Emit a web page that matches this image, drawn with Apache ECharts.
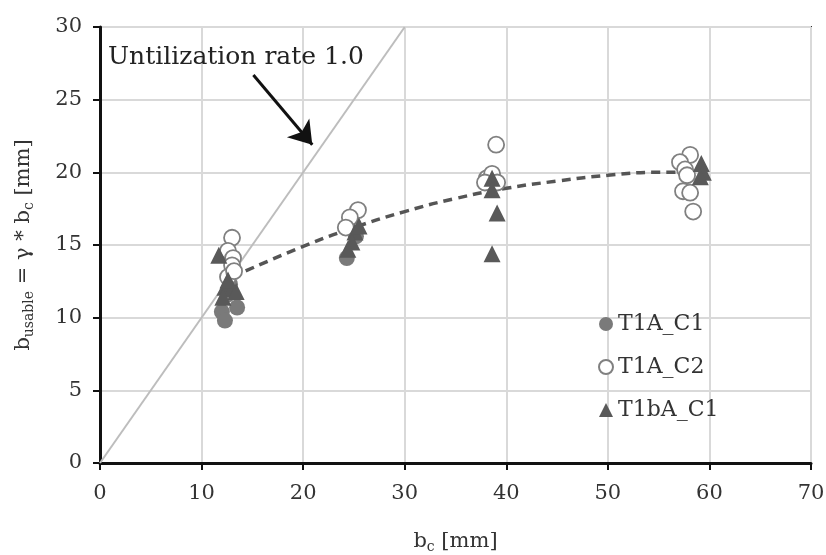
<!DOCTYPE html>
<html>
<head>
    <meta charset="utf-8">
    <title>b_usable vs b_c</title>
    <script src="https://cdn.jsdelivr.net/npm/echarts@6/dist/echarts.min.js"></script>
    <style>
        html, body { margin: 0; padding: 0; background: #fff; }
        #chart1 { width: 826px; height: 555px; }
    </style>
</head>
<body>
<div id="chart1"></div>
<script>
    // 数据
    var t1aC1 = [[12.0, 10.4], [12.3, 9.8], [13.5, 10.7], [12.6, 11.6], [12.8, 12.3], [24.3, 14.1], [25.2, 15.6]];
    var t1aC2 = [[13.0, 15.5], [12.6, 14.6], [13.1, 14.1], [13.0, 13.6], [12.6, 12.8], [13.2, 13.2],
        [25.4, 17.4], [24.6, 16.9], [24.2, 16.2],
        [39.0, 21.9], [38.1, 19.6], [38.6, 19.9], [39.1, 19.3], [37.9, 19.3],
        [58.1, 21.2], [57.1, 20.7], [57.6, 20.2], [57.8, 19.8], [57.4, 18.7], [58.1, 18.6], [58.4, 17.3]];
    var t1baC1 = [[11.7, 14.3], [12.3, 12.1], [13.0, 12.0], [13.4, 11.8], [12.1, 11.4], [12.6, 12.6],
        [25.1, 15.9], [24.8, 15.2], [24.4, 14.7], [25.5, 16.3],
        [38.6, 19.6], [38.6, 18.8], [39.1, 17.2], [38.6, 14.4],
        [59.2, 20.6], [59.4, 20.0], [59.1, 19.7]];
    var trendX = [13, 20, 25, 30, 35, 40, 45, 50, 55, 58];
    var trendY = [12.8, 14.9, 16.2, 17.3, 18.2, 18.9, 19.4, 19.8, 20.0, 20.0];
    var unity = [[0, 0], [30, 30]];
    var arrowFrom = [15.1, 26.7];
    var arrowTo = [20.9, 21.9];
    var xTicks = [0, 10, 20, 30, 40, 50, 60, 70];
    var yTicks = [0, 5, 10, 15, 20, 25, 30];

    var serif = '"DejaVu Serif", "Liberation Serif", serif';
    var trend = trendX.map(function (x, i) { return [x, trendY[i]]; });
    var nameRich = {
        b: { fontFamily: serif, fontSize: 21, color: '#333' },
        s: { fontFamily: serif, fontSize: 14, color: '#333', padding: [11, 0, 0, 0] }
    };

    var myChart1 = echarts.init(document.getElementById('chart1'));
    myChart1.setOption({
        animation: false,
        backgroundColor: '#fff',
        textStyle: { fontFamily: serif },
        grid: { left: 100, right: 15, top: 27, bottom: 92, containLabel: false, outerBoundsMode: 'none' },
        legend: {
            orient: 'vertical',
            left: 593, top: 308,
            itemGap: 21,
            itemWidth: 14, itemHeight: 14,
            textStyle: { fontFamily: serif, fontSize: 22, color: '#333' },
            data: [
                { name: 'T1A_C1', icon: 'circle' },
                { name: 'T1A_C2', icon: 'circle' },
                { name: 'T1bA_C1', icon: 'triangle' }
            ]
        },
        xAxis: {
            type: 'value', min: xTicks[0], max: xTicks[xTicks.length - 1], interval: 10,
            name: '{b|b}{s|c}{b| [mm]}',
            nameLocation: 'middle', nameGap: 66,
            nameTextStyle: { rich: nameRich },
            axisLine: { show: true, onZero: false, lineStyle: { color: '#111', width: 3 } },
            axisTick: { show: true, inside: false, length: 7, lineStyle: { color: '#111', width: 2 } },
            axisLabel: { margin: 20, fontFamily: serif, fontSize: 21, color: '#333' },
            splitLine: { show: true, lineStyle: { color: '#d9d9d9', width: 2 } }
        },
        yAxis: {
            type: 'value', min: yTicks[0], max: yTicks[yTicks.length - 1], interval: 5,
            name: '{b|b}{s|usable}{b| = γ * b}{s|c}{b| [mm]}',
            nameLocation: 'middle', nameGap: 64, nameRotate: 90,
            nameTextStyle: { rich: nameRich },
            axisLine: { show: true, onZero: false, lineStyle: { color: '#111', width: 3 } },
            axisTick: { show: true, inside: false, length: 7, lineStyle: { color: '#111', width: 2 } },
            axisLabel: { margin: 18, fontFamily: serif, fontSize: 21, color: '#333' },
            splitLine: { show: true, lineStyle: { color: '#d9d9d9', width: 2 } }
        },
        series: [
            {
                name: 'unity', type: 'line', data: unity, symbol: 'none', z: 1,
                lineStyle: { color: '#bdbdbd', width: 2 },
                markLine: {
                    silent: true, symbol: ['none', 'arrow'], symbolSize: 22,
                    lineStyle: { color: '#111', width: 3, type: 'solid' },
                    label: { show: false },
                    data: [[{ coord: arrowFrom, symbol: 'none' }, { coord: arrowTo, symbol: 'arrow' }]]
                }
            },
            {
                name: 'trend', type: 'line', data: trend, smooth: true, symbol: 'none', z: 3,
                lineStyle: { color: '#555', width: 3.5, type: [9, 6] }
            },
            {
                name: 'T1A_C1', type: 'scatter', data: t1aC1, symbol: 'circle', symbolSize: 16, z: 4,
                itemStyle: { color: '#7a7a7a', opacity: 1 }
            },
            {
                name: 'T1A_C2', type: 'scatter', data: t1aC2, symbol: 'circle', symbolSize: 16, z: 4,
                itemStyle: { color: '#fff', borderColor: '#808080', borderWidth: 1.8, opacity: 1 }
            },
            {
                name: 'T1bA_C1', type: 'scatter', data: t1baC1, symbol: 'triangle', symbolSize: 17, z: 5,
                itemStyle: { color: '#595959', opacity: 1 }
            }
        ],
        graphic: [
            {
                type: 'text', left: 108, top: 45, z: 10,
                style: { text: 'Untilization rate 1.0', fontFamily: serif, fontSize: 25, fill: '#222' }
            },
            {
                type: 'rect', z: 0, silent: true,
                shape: { x: 100, y: 27, width: 711, height: 436 },
                style: { fill: 'none', stroke: '#333', lineWidth: 2 }
            }
        ]
    });
</script>
</body>
</html>
